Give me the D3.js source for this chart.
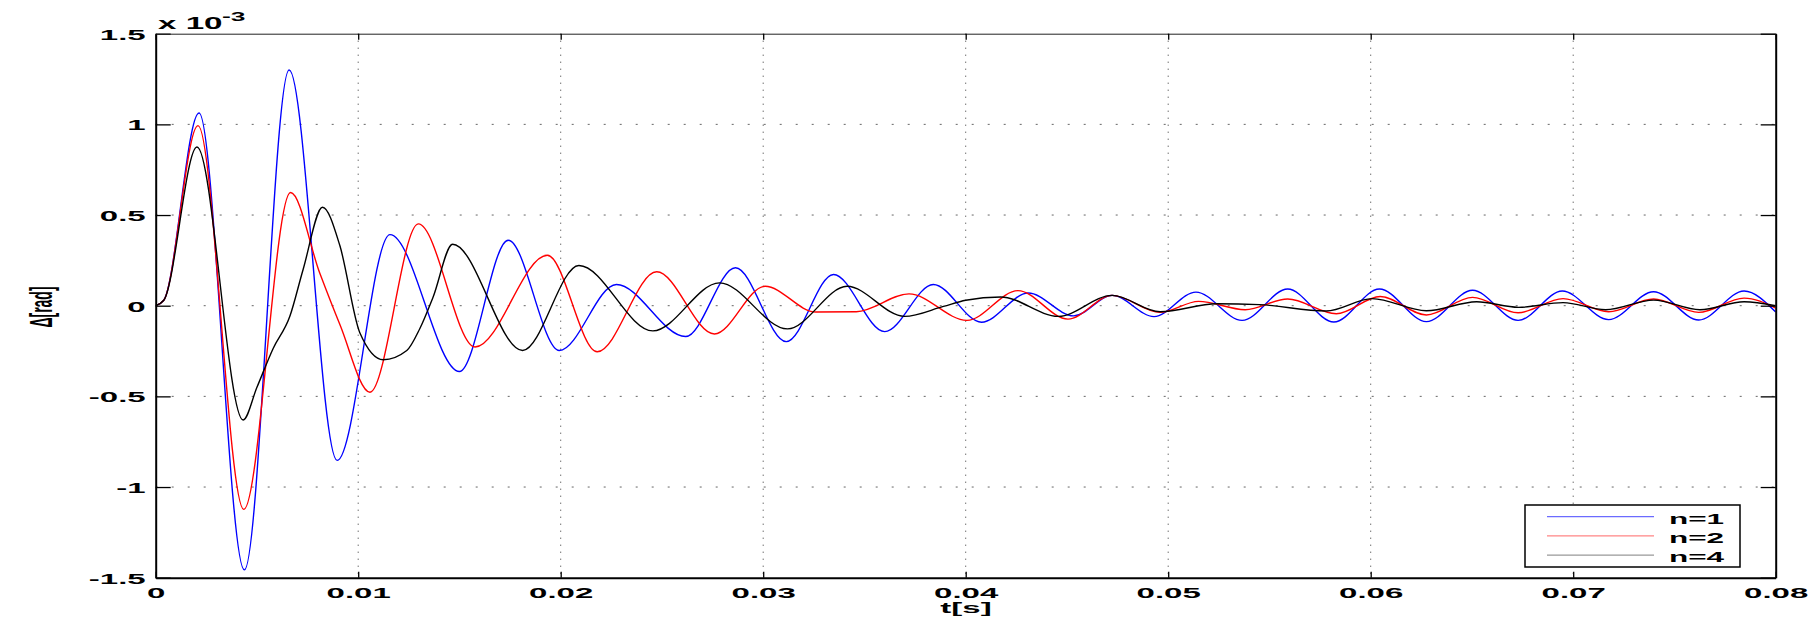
<!DOCTYPE html>
<html>
<head>
<meta charset="utf-8">
<script src="https://cdn.jsdelivr.net/npm/d3@7"></script>
<style>
  body { margin: 0; background: #fff; }
  svg text { font-family: "Liberation Sans", Arial, Helvetica, sans-serif; font-weight: bold; }
</style>
</head>
<body>
<svg id="chart" width="1814" height="621"></svg>
<script>
// time (s) and values (x 1e-3 rad), one pair of arrays per run
var tN1 = [0, 0.0004, 0.00214, 0.00438, 0.00659, 0.00896, 0.01157, 0.0150, 0.01741, 0.01993,
           0.02275, 0.02617, 0.02863, 0.03114, 0.03347, 0.0360, 0.0384, 0.04078, 0.04309, 0.04533,
           0.04723, 0.0493, 0.05137, 0.05365, 0.0559, 0.05818, 0.06043, 0.06275, 0.06503, 0.06728,
           0.06946, 0.07175, 0.07397, 0.0762, 0.07844, 0.08];
var vN1 = [0, 0.03, 1.063, -1.457, 1.30, -0.853, 0.392, -0.363, 0.361, -0.247,
           0.117, -0.17, 0.209, -0.198, 0.172, -0.143, 0.117, -0.091, 0.07, -0.056,
           0.057, -0.06, 0.075, -0.081, 0.092, -0.09, 0.092, -0.088, 0.085, -0.081,
           0.081, -0.077, 0.077, -0.079, 0.081, -0.035];

var tN2 = [0, 0.0004, 0.00209, 0.00435, 0.00666, 0.0081, 0.0091, 0.01058, 0.01297, 0.01577,
           0.01934, 0.0218, 0.02474, 0.02759, 0.03009, 0.0326, 0.0346, 0.0372, 0.04006, 0.04258,
           0.04505, 0.04723, 0.0496, 0.0515, 0.0538, 0.0559, 0.0583, 0.06047, 0.06275, 0.06503,
           0.06728, 0.0695, 0.07175, 0.07397, 0.0762, 0.07844, 0.08];
var vN2 = [0, 0.03, 0.993, -1.123, 0.624, 0.18, -0.105, -0.477, 0.451, -0.228,
           0.278, -0.254, 0.187, -0.156, 0.107, -0.035, -0.033, 0.065, -0.081, 0.083,
           -0.074, 0.057, -0.037, 0.024, -0.022, 0.037, -0.044, 0.051, -0.051, 0.046,
           -0.039, 0.039, -0.033, 0.037, -0.037, 0.042, -0.013];

var tN4 = [0, 0.0004, 0.00204, 0.00432, 0.0050, 0.0058, 0.00662, 0.00728, 0.00824, 0.00909,
           0.01008, 0.01124, 0.0124, 0.01304, 0.0137, 0.01466, 0.01812, 0.0209, 0.02455, 0.02784,
           0.0312, 0.03414, 0.03698, 0.0389, 0.0400, 0.04173, 0.04457, 0.04723, 0.0496, 0.0524,
           0.0545, 0.0578, 0.06007, 0.06275, 0.06523, 0.0673, 0.0695, 0.0716, 0.07397, 0.07626,
           0.07844, 0.08];
var vN4 = [0, 0.03, 0.875, -0.63, -0.45, -0.236, -0.06, 0.2, 0.543, 0.333,
           -0.149, -0.298, -0.247, -0.127, 0.048, 0.339, -0.247, 0.222, -0.139, 0.126,
           -0.128, 0.107, -0.059, -0.004, 0.03, 0.048, -0.059, 0.057, -0.033, 0.011,
           0.006, -0.029, 0.039, -0.028, 0.022, -0.009, 0.017, -0.022, 0.031, -0.022,
           0.022, 0];

var seriesNames = ["n=1", "n=2", "n=4"];
var seriesColors = ["#0000ff", "#ff0000", "#000000"];
var legendColors = ["#6b6bff", "#ff8585", "#999999"];

var xTicks = [0, 0.01, 0.02, 0.03, 0.04, 0.05, 0.06, 0.07, 0.08];
var yTicks = [-1.5, -1, -0.5, 0, 0.5, 1, 1.5];

var SX = 2.2; // the picture is stretched sideways, so are its letters

// plot box (window.top is read-only, hence the prefix)
var boxLeft = 155.7, boxRight = 1775.7, boxTop = 33.7, boxBottom = 577.7;

window.onload = function() {
   var svg = d3.select("#chart");

   var x = d3.scaleLinear().domain([0, 0.08]).range([boxLeft, boxRight]);
   var y = d3.scaleLinear().domain([-1.5, 1.5]).range([boxBottom, boxTop]);

   // grid
   var grid = svg.append("g");
   xTicks.slice(1, -1).forEach(function(t) {
      grid.append("line")
         .attr("x1", x(t)).attr("x2", x(t))
         .attr("y1", boxTop).attr("y2", boxBottom)
         .attr("stroke", "#333").attr("stroke-width", 1)
         .attr("stroke-dasharray", "1,6");
   });
   yTicks.slice(1, -1).forEach(function(v) {
      grid.append("line")
         .attr("x1", boxLeft).attr("x2", boxRight)
         .attr("y1", y(v)).attr("y2", y(v))
         .attr("stroke", "#666").attr("stroke-width", 1)
         .attr("stroke-dasharray", "2,14");
   });

   // curves
   svg.append("clipPath").attr("id", "plotclip")
      .append("rect")
      .attr("x", boxLeft).attr("y", boxTop)
      .attr("width", boxRight - boxLeft).attr("height", boxBottom - boxTop);

   var line = d3.line()
      .x(function(d) { return x(d[0]); })
      .y(function(d) { return y(d[1]); })
      .curve(d3.curveMonotoneX);

   var allT = [tN1, tN2, tN4];
   var allV = [vN1, vN2, vN4];
   var curves = svg.append("g").attr("clip-path", "url(#plotclip)");
   allT.forEach(function(ts, i) {
      var pts = ts.map(function(t, j) { return [t, allV[i][j]]; });
      curves.append("path")
         .datum(pts)
         .attr("d", line)
         .attr("fill", "none")
         .attr("stroke", seriesColors[i])
         .attr("stroke-width", 1.4);
   });

   // axes
   var xAxis = d3.axisBottom(x).tickValues(xTicks).tickSize(-6).tickSizeOuter(0).tickPadding(10)
      .tickFormat(function(d) { return d === 0 ? "0" : d.toFixed(2); });
   var gx = svg.append("g").attr("transform", "translate(0," + boxBottom + ")").call(xAxis);
   gx.selectAll("text").attr("transform", "scale(" + SX + ",1)")
      .attr("font-size", 15).attr("fill", "#000");

   var yAxis = d3.axisLeft(y).tickValues(yTicks).tickSize(-15).tickSizeOuter(0).tickPadding(10)
      .tickFormat(function(d) { return String(d); });
   var gy = svg.append("g").attr("transform", "translate(" + boxLeft + ",0)").call(yAxis);
   gy.selectAll("text").attr("transform", "scale(" + SX + ",1)")
      .attr("x", -10 / SX).attr("dy", "0.36em")
      .attr("font-size", 15).attr("fill", "#000");

   var gt = svg.append("g").attr("transform", "translate(0," + boxTop + ")")
      .call(d3.axisTop(x).tickValues(xTicks).tickSize(-6).tickSizeOuter(0).tickFormat(""));
   var gr = svg.append("g").attr("transform", "translate(" + boxRight + ",0)")
      .call(d3.axisRight(y).tickValues(yTicks).tickSize(-15).tickSizeOuter(0).tickFormat(""));

   [gx, gy, gr].forEach(function(g) {
      g.select(".domain").attr("stroke", "#000").attr("stroke-width", 2);
      g.selectAll(".tick line").attr("stroke", "#000").attr("stroke-width", 1.3);
   });
   gt.select(".domain").attr("stroke", "#222").attr("stroke-width", 1);
   gt.selectAll(".tick line").attr("stroke", "#000").attr("stroke-width", 1.3);

   // exponent above the y axis
   svg.append("g").attr("transform", "translate(158,28.5) scale(1.95,1)")
      .append("text").attr("font-size", 17).text("x 10");
   svg.append("g").attr("transform", "translate(222,20.5) scale(" + SX + ",1)")
      .append("text").attr("font-size", 12).text("-3");

   // axis labels
   svg.append("text")
      .attr("transform", "translate(966,613) scale(" + SX + ",1)")
      .attr("text-anchor", "middle").attr("font-size", 15)
      .text("t[s]");
   svg.append("text")
      .attr("transform", "translate(52,307) rotate(-90) scale(1," + SX + ")")
      .attr("text-anchor", "middle").attr("font-size", 14)
      .text("\u0394[rad]");

   // legend
   var lg = svg.append("g");
   lg.append("rect")
      .attr("x", 1525).attr("y", 505).attr("width", 215).attr("height", 62)
      .attr("fill", "#fff").attr("stroke", "#000").attr("stroke-width", 1.5);
   seriesNames.forEach(function(name, i) {
      var ly = 516.7 + i * 19.2;
      lg.append("line")
         .attr("x1", 1547).attr("x2", 1654).attr("y1", ly).attr("y2", ly)
         .attr("stroke", legendColors[i]).attr("stroke-width", 1.2);
      lg.append("text")
         .attr("transform", "translate(1669," + (ly + 7) + ") scale(2.1,1)")
         .attr("font-size", 15).text(name);
   });
};
</script>
</body>
</html>
